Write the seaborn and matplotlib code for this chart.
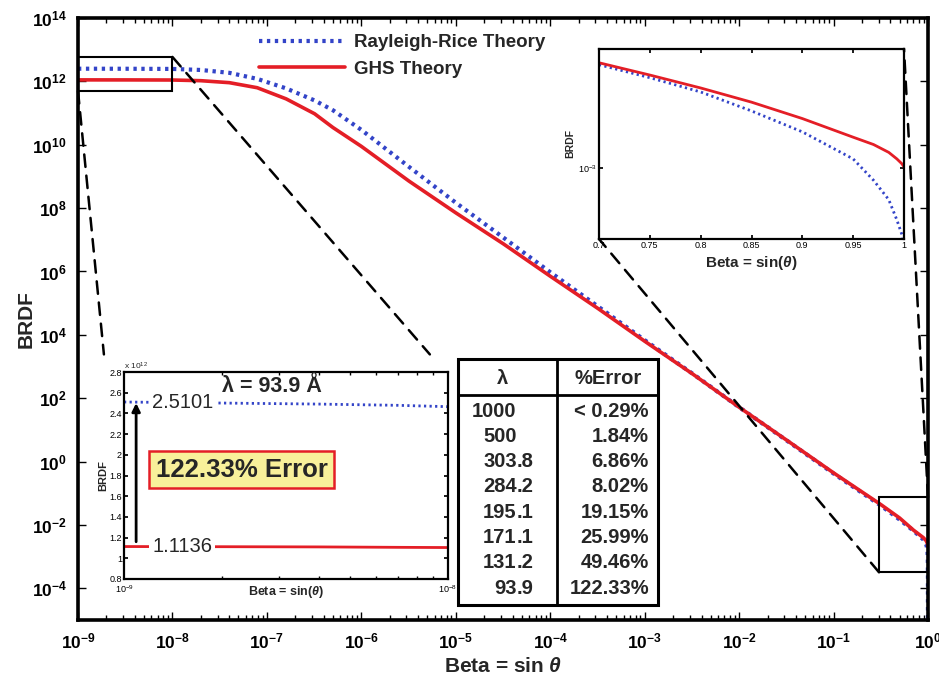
import numpy as np
import pandas as pd
import matplotlib
matplotlib.use("Agg")
import matplotlib.pyplot as plt
import seaborn as sns
from matplotlib.patches import Rectangle, ConnectionPatch
from matplotlib.ticker import FixedLocator, NullLocator, LogLocator, FuncFormatter, NullFormatter

# ---------------- data ----------------
beta = [1e-9, 3.2e-9, 1e-8, 2e-8, 4e-8, 7.9e-8, 1.6e-7, 3.2e-7, 5e-7, 1e-6, 3.2e-6,
        1e-5, 3.2e-5, 1e-4, 3.2e-4, 1e-3, 3.2e-3, 1e-2, 3.2e-2, 0.1, 0.32, 0.5, 0.7,
        0.89, 0.955, 0.977, 0.989, 0.995, 0.998, 1.0]
brdf_rr = [2.51e12, 2.50e12, 2.47e12, 2.29e12, 1.86e12, 1.2e12, 6.0e11, 2.5e11, 1.23e11,
           2.95e10, 2.0e9, 1.48e8, 1.17e7, 9.5e5, 7.9e4, 6.8e3, 6.0e2, 52, 4.6, 0.42,
           0.040, 0.0148, 6.6e-3, 3.5e-3, 2.5e-3, 1.9e-3, 1.4e-3, 8e-4, 2.5e-4, 1e-8]
brdf_ghs = [1.1136e12, 1.112e12, 1.104e12, 1.05e12, 9.1e11, 6.3e11, 2.8e11, 9.5e10, 3.5e10,
            8.9e9, 7.1e8, 7.1e7, 7.4e6, 7.1e5, 6.8e4, 6.3e3, 5.9e2, 52, 4.7, 0.44,
            0.043, 0.0166, 6.9e-3, 4.0e-3, 3.2e-3, 2.75e-3, 2.5e-3, 2.3e-3, 2.2e-3, 2.05e-3]

# left inset (zoom on 1e-9 .. 1e-8)
zoom1_beta = [1e-9, 2e-9, 4e-9, 7e-9, 1e-8]
zoom1_rr = [2.5101e12, 2.500e12, 2.490e12, 2.478e12, 2.465e12]
zoom1_ghs = [1.1136e12, 1.112e12, 1.110e12, 1.106e12, 1.104e12]

# right inset (zoom on 0.7 .. 1)
zoom2_beta = [0.70, 0.75, 0.80, 0.85, 0.90, 0.95, 0.97, 0.985, 0.993, 0.998, 1.0]
zoom2_rr = [2.67e-3, 2.36e-3, 2.06e-3, 1.72e-3, 1.41e-3, 1.09e-3, 8.9e-4, 7.4e-4, 6.1e-4, 5.3e-4, 4.0e-4]
zoom2_ghs = [2.72e-3, 2.42e-3, 2.14e-3, 1.87e-3, 1.60e-3, 1.34e-3, 1.25e-3, 1.16e-3, 1.09e-3, 1.04e-3, 1.01e-3]

table_lambda = ["1000", "500", "303.8", "284.2", "195.1", "171.1", "131.2", "93.9"]
table_error = ["< 0.29%", "1.84%", "6.86%", "8.02%", "19.15%", "25.99%", "49.46%", "122.33%"]

main_xticks = [1e-9, 1e-8, 1e-7, 1e-6, 1e-5, 1e-4, 1e-3, 1e-2, 1e-1, 1e0]
main_yticks = [1e-4, 1e-2, 1e0, 1e2, 1e4, 1e6, 1e8, 1e10, 1e12, 1e14]
zoom1_yticks = [0.8e12, 1.0e12, 1.2e12, 1.4e12, 1.6e12, 1.8e12, 2.0e12, 2.2e12, 2.4e12, 2.6e12, 2.8e12]
zoom2_xticks = [0.7, 0.75, 0.8, 0.85, 0.9, 0.95, 1.0]

BLUE = "#3344c8"
RED = "#e41e26"

# ---------------- style ----------------
sns.set_theme(style="ticks")
plt.rcParams["font.family"] = ["Liberation Sans", "DejaVu Sans"]
plt.rcParams["mathtext.fontset"] = "custom"
plt.rcParams["mathtext.rm"] = "Liberation Sans"
plt.rcParams["mathtext.bf"] = "Liberation Sans:bold"
plt.rcParams["mathtext.it"] = "Liberation Sans:italic:bold"
plt.rcParams["mathtext.sf"] = "Liberation Sans"

W, H = 939, 677
fig = plt.figure(figsize=(W / 100, H / 100), dpi=100)
fig.patch.set_facecolor("white")


def px_axes(l, t, r, b):
    return fig.add_axes([l / W, 1 - b / H, (r - l) / W, (b - t) / H])


def exp_label(v):
    e = int(round(np.log10(v)))
    return r"$\mathbf{10^{%d}}$" % e


# ---------------- main axes ----------------
ax = px_axes(78, 18, 928, 620)
ax.set_xscale("log")
ax.set_yscale("log")
df_main = pd.DataFrame({"beta": beta, "rr": brdf_rr, "ghs": brdf_ghs})
sns.lineplot(data=df_main, x="beta", y="rr", ax=ax, color=BLUE, lw=3.0,
             linestyle=(0, (0.8, 1.1)), label="Rayleigh-Rice Theory", sort=False)
sns.lineplot(data=df_main, x="beta", y="ghs", ax=ax, color=RED, lw=2.6,
             label="GHS Theory", sort=False)
ax.set_xlim(1e-9, 1.0)
ax.set_ylim(1e-5, 1e14)
ax.xaxis.set_major_locator(FixedLocator(main_xticks))
ax.xaxis.set_major_formatter(FuncFormatter(lambda v, p: exp_label(v)))
ax.xaxis.set_minor_locator(LogLocator(base=10, subs=np.arange(2, 10), numticks=100))
ax.xaxis.set_minor_formatter(NullFormatter())
ax.yaxis.set_major_locator(FixedLocator(main_yticks))
ax.yaxis.set_major_formatter(FuncFormatter(lambda v, p: exp_label(v)))
ax.yaxis.set_minor_locator(NullLocator())
ax.tick_params(which="both", direction="in", top=True, right=True, labelsize=12.5,
               colors="black", width=1.0)
ax.tick_params(which="major", length=6, pad=8)
ax.tick_params(which="minor", length=3.5)
for s in ax.spines.values():
    s.set_linewidth(2.6)
    s.set_color("black")
ax.set_xlabel(r"Beta = sin $\mathit{\theta}$", fontsize=15, fontweight="bold", labelpad=4)
ax.set_ylabel("BRDF", fontsize=15, fontweight="bold", labelpad=-3)
leg = ax.legend(loc="upper left", bbox_to_anchor=(0.197, 0.995), frameon=False,
                handlelength=4.6, handletextpad=0.5, labelspacing=0.5,
                prop={"size": 13.5, "weight": "bold"}, borderpad=0.2)

# zoom rectangles on main plot
ax.add_patch(Rectangle((1e-9, 4.96e11), 1e-8 - 1e-9, 5.9e12 - 4.96e11, fill=False,
                       ec="black", lw=1.5, zorder=5))
ax.add_patch(Rectangle((0.303, 3.2e-4), 1.0 - 0.303, 0.075 - 3.2e-4, fill=False,
                       ec="black", lw=1.5, zorder=5))

# ---------------- inset 1 (bottom-left) ----------------
ax1 = px_axes(124, 372, 448, 579)
ax1.set_xscale("log")
df_z1 = pd.DataFrame({"beta": zoom1_beta, "rr": zoom1_rr, "ghs": zoom1_ghs})
sns.lineplot(data=df_z1, x="beta", y="rr", ax=ax1, color=BLUE, lw=2.0,
             linestyle=(0, (0.8, 1.2)), legend=False)
sns.lineplot(data=df_z1, x="beta", y="ghs", ax=ax1, color=RED, lw=2.0, legend=False)
ax1.set_xlim(1e-9, 1e-8)
ax1.set_ylim(0.8e12, 2.8e12)
ax1.yaxis.set_major_locator(FixedLocator(zoom1_yticks))
ax1.yaxis.set_major_formatter(FuncFormatter(lambda v, p: "%g" % round(v / 1e12, 1)))
ax1.xaxis.set_major_locator(FixedLocator([1e-9, 1e-8]))
ax1.xaxis.set_major_formatter(FuncFormatter(lambda v, p: r"$10^{%d}$" % int(round(np.log10(v)))))
ax1.xaxis.set_minor_locator(LogLocator(base=10, subs=np.arange(2, 10), numticks=50))
ax1.xaxis.set_minor_formatter(NullFormatter())
ax1.tick_params(which="both", direction="in", top=True, right=True, labelsize=6.5,
                colors="black", pad=1.5)
ax1.tick_params(axis="x", which="major", pad=3)
ax1.tick_params(which="major", length=3)
ax1.tick_params(which="minor", length=2)
for s in ax1.spines.values():
    s.set_linewidth(1.6)
    s.set_color("black")
ax1.set_xlabel(r"Beta = sin($\mathit{\theta}$)", fontsize=9, fontweight="bold", labelpad=-8)
ax1.set_ylabel("BRDF", fontsize=8, fontweight="bold", labelpad=1)
ax1.text(0.0, 1.0, r"x 10$^{12}$", transform=ax1.transAxes, fontsize=6, ha="left",
         va="bottom")
ax1.text(0.087, zoom1_rr[0], "2.5101", fontsize=14.5, ha="left", va="center",
         transform=ax1.get_yaxis_transform(),
         bbox=dict(boxstyle="square,pad=0.15", fc="white", ec="none"), zorder=6)
ax1.text(0.087, zoom1_ghs[0], "1.1136", fontsize=14.5, ha="left", va="center",
         transform=ax1.get_yaxis_transform(),
         bbox=dict(boxstyle="square,pad=0.15", fc="white", ec="none"), zorder=6)
ax1.text(0.302, 0.93, "λ = 93.9 Å", fontsize=15.5, fontweight="bold", ha="left",
         va="center", transform=ax1.transAxes, zorder=6)
ax1.annotate("", xy=(1.09e-9, 2.50e12), xytext=(1.09e-9, 1.16e12),
             arrowprops=dict(arrowstyle="-|>", color="black", lw=2.0,
                             mutation_scale=12, shrinkA=0, shrinkB=0), zorder=7)
ax1.text(0.363, 0.527, "122.33% Error", fontsize=18.5, fontweight="bold", ha="center",
         va="center", transform=ax1.transAxes, zorder=8,
         bbox=dict(boxstyle="square,pad=0.25", fc="#f8f09a", ec=RED, lw=1.8))

# ---------------- inset 2 (top-right) ----------------
ax2 = px_axes(599, 49, 904, 239)
ax2.set_yscale("log")
df_z2 = pd.DataFrame({"beta": zoom2_beta, "rr": zoom2_rr, "ghs": zoom2_ghs})
sns.lineplot(data=df_z2, x="beta", y="rr", ax=ax2, color=BLUE, lw=2.0,
             linestyle=(0, (0.8, 1.2)), legend=False)
sns.lineplot(data=df_z2, x="beta", y="ghs", ax=ax2, color=RED, lw=2.0, legend=False)
ax2.set_xlim(0.7, 1.0)
ax2.set_ylim(5.09e-4, 3.10e-3)
ax2.xaxis.set_major_locator(FixedLocator(zoom2_xticks))
ax2.xaxis.set_major_formatter(FuncFormatter(lambda v, p: "%g" % round(v, 2)))
ax2.yaxis.set_major_locator(FixedLocator([1e-3]))
ax2.yaxis.set_major_formatter(FuncFormatter(lambda v, p: r"$10^{%d}$" % int(round(np.log10(v)))))
ax2.yaxis.set_minor_locator(NullLocator())
ax2.tick_params(which="both", direction="in", top=True, right=True, labelsize=6.5,
                colors="black", pad=1.5, length=3)
for s in ax2.spines.values():
    s.set_linewidth(1.6)
    s.set_color("black")
ax2.set_xlabel(r"Beta = sin($\mathit{\theta}$)", fontsize=11, fontweight="bold", labelpad=3)
ax2.set_ylabel("BRDF", fontsize=7.5, fontweight="bold", labelpad=2)

# ---------------- table ----------------
axt = px_axes(458, 359, 658, 605)
axt.set_axis_off()
axt.set_xlim(0, 1)
axt.set_ylim(0, 1)
axt.add_patch(Rectangle((0, 0), 1, 1, fc="white", ec="black", lw=2.2,
                        transform=axt.transAxes, clip_on=False))
axt.plot([0.495, 0.495], [0, 1], color="black", lw=2.0, clip_on=False)
axt.plot([0, 1], [0.854, 0.854], color="black", lw=2.0, clip_on=False)
axt.text(0.225, 0.919, "λ", fontsize=14.5, fontweight="bold", ha="center", va="center")
axt.text(0.75, 0.919, "%Error", fontsize=14.5, fontweight="bold", ha="center", va="center")
row_y = [0.787, 0.683, 0.585, 0.482, 0.376, 0.274, 0.173, 0.069]
for yv, lam, err in zip(row_y, table_lambda, table_error):
    if "." in lam:
        ip, fp = lam.split(".")
        axt.text(0.2935, yv, ip, fontsize=14.5, fontweight="bold", ha="right", va="center")
        axt.text(0.2935, yv, "." + fp, fontsize=14.5, fontweight="bold", ha="left", va="center")
    else:
        axt.text(0.2935, yv, lam, fontsize=14.5, fontweight="bold", ha="right", va="center")
    axt.text(0.955, yv, err, fontsize=14.5, fontweight="bold", ha="right", va="center")

# ---------------- dashed connector lines ----------------
dash_kw = dict(color="black", lw=1.8, linestyle=(0, (5, 3.5)), zorder=4)
cons = [
    ConnectionPatch(xyA=(1e-9, 4.96e11), coordsA=ax.transData,
                    xyB=(-0.062, 1.085), coordsB=ax1.transAxes, **dash_kw),
    ConnectionPatch(xyA=(1e-8, 5.9e12), coordsA=ax.transData,
                    xyB=(0.944, 1.085), coordsB=ax1.transAxes, **dash_kw),
    ConnectionPatch(xyA=(0.303, 3.2e-4), coordsA=ax.transData,
                    xyB=(0.0, 0.0), coordsB=ax2.transAxes, **dash_kw),
    ConnectionPatch(xyA=(1.0, 0.075), coordsA=ax.transData,
                    xyB=(1.0, 1.0), coordsB=ax2.transAxes, **dash_kw),
]
for c in cons:
    fig.add_artist(c)

fig.savefig("out.png", dpi=100, facecolor="white")
